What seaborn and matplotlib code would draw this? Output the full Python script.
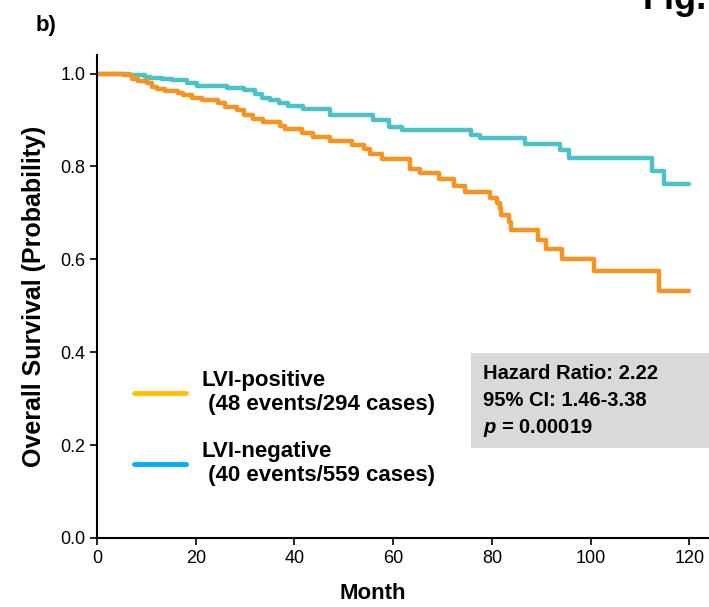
import matplotlib
matplotlib.use("Agg")
import matplotlib.pyplot as plt
from matplotlib.lines import Line2D
from matplotlib.patches import Rectangle
import seaborn as sns
import pandas as pd

# Kaplan-Meier step points (month, survival)
pos_months = [0, 5.4, 7.0, 8.4, 10.1, 11.1, 12.1, 13.8, 16.5, 17.5, 19.2, 21.2, 24.6,
              25.9, 28.3, 29.7, 31.7, 33.7, 37.0, 38.0, 41.6, 43.8, 47.3, 51.7, 54.0,
              55.4, 57.7, 63.5, 65.5, 69.2, 72.3, 74.6, 79.7, 81.1, 81.6, 81.8, 83.4,
              83.9, 89.3, 90.9, 94.3, 100.8, 113.9, 120.0]
pos_surv = [1.0, 0.996, 0.989, 0.984, 0.979, 0.971, 0.966, 0.963, 0.958, 0.953, 0.948,
            0.944, 0.936, 0.928, 0.921, 0.910, 0.903, 0.896, 0.887, 0.880, 0.871, 0.863,
            0.855, 0.846, 0.837, 0.827, 0.816, 0.794, 0.785, 0.774, 0.758, 0.746, 0.732,
            0.721, 0.711, 0.695, 0.681, 0.663, 0.642, 0.622, 0.601, 0.575, 0.532, 0.532]

neg_months = [0, 6.5, 9.7, 10.8, 13.1, 15.2, 18.2, 20.2, 26.3, 29.7, 32.0, 33.4, 35.1,
              36.8, 38.8, 41.8, 47.3, 56.0, 59.1, 61.8, 75.7, 77.7, 86.8, 93.9, 95.6,
              112.5, 114.9, 120.0]
neg_surv = [1.0, 0.997, 0.993, 0.990, 0.988, 0.986, 0.979, 0.974, 0.970, 0.964, 0.957,
            0.948, 0.943, 0.936, 0.931, 0.923, 0.911, 0.900, 0.884, 0.878, 0.868, 0.861,
            0.848, 0.835, 0.819, 0.791, 0.762, 0.762]

legend_labels = ["LVI-positive\n (48 events/294 cases)", "LVI-negative\n (40 events/559 cases)"]
stats_lines = ["Hazard Ratio: 2.22", "95% CI: 1.46-3.38", r"$\bfit{p}$ = 0.00019"]
x_ticks = [0, 20, 40, 60, 80, 100, 120]
y_ticks = [0.0, 0.2, 0.4, 0.6, 0.8, 1.0]

sns.set_style("ticks")
plt.rcParams["font.family"] = ["Liberation Sans", "DejaVu Sans"]
plt.rcParams["text.color"] = "black"
plt.rcParams["axes.labelcolor"] = "black"
plt.rcParams["mathtext.fontset"] = "custom"
plt.rcParams["mathtext.bfit"] = "Liberation Sans:bold:italic"
plt.rcParams["mathtext.it"] = "Liberation Sans:italic"
plt.rcParams["mathtext.bf"] = "Liberation Sans:bold"

fig = plt.figure(figsize=(7.09, 6.07), dpi=100)
ax = fig.add_axes([97 / 709, 1 - 538 / 607, 612 / 709, 483 / 607])

df_pos = pd.DataFrame({"month": pos_months, "surv": pos_surv})
df_neg = pd.DataFrame({"month": neg_months, "surv": neg_surv})
sns.lineplot(data=df_neg, x="month", y="surv", ax=ax, color="#4BC2C5", lw=3.2,
             drawstyle="steps-post", estimator=None, sort=False)
sns.lineplot(data=df_pos, x="month", y="surv", ax=ax, color="#F7931E", lw=3.2,
             drawstyle="steps-post", estimator=None, sort=False)

ax.set_xlim(0, 124)
ax.set_ylim(0, 1.04)
ax.set_xticks(x_ticks)
ax.set_yticks(y_ticks)
ax.set_yticklabels([f"{v:.1f}" for v in y_ticks])
ax.tick_params(labelsize=13, length=5, width=1.2, colors="black")
for s in ["top", "right"]:
    ax.spines[s].set_visible(False)
for s in ["left", "bottom"]:
    ax.spines[s].set_linewidth(1.5)
    ax.spines[s].set_color("black")

ax.set_xlabel("Month", fontsize=16, fontweight="bold")
ax.xaxis.set_label_coords((373 - 97) / 612, -45 / 483)
ax.set_ylabel("Overall Survival (Probability)", fontsize=18, fontweight="bold", labelpad=10)

# legend
handles = [Line2D([], [], color="#FFC000", lw=3.5), Line2D([], [], color="#00B0F0", lw=3.5)]
ax.legend(handles, legend_labels, loc="upper left", bbox_to_anchor=((134 - 97) / 612, (538 - 370) / 483),
          frameon=False, prop={"size": 16, "weight": "bold"}, handlelength=2.35,
          handletextpad=0.7, labelspacing=1.15, borderpad=0, borderaxespad=0)

# stats box
ax.add_patch(Rectangle(((471 - 97) / 612, (538 - 448) / 483), 1.0, 95 / 483,
                       transform=ax.transAxes, facecolor="#D9D9D9", edgecolor="none",
                       clip_on=False, zorder=1))
for i, line in enumerate(stats_lines):
    ax.text((483 - 97) / 612, (538 - 374 - 27 * i) / 483, line, transform=ax.transAxes,
            fontsize=14.5, fontweight="bold", va="center", ha="left", zorder=2)

fig.text(36 / 709, 1 - 26 / 607, "b)", fontsize=16, fontweight="bold", va="center", ha="left")
fig.text(707 / 709, 1 - 9 / 607, "Fig.", fontsize=26, fontweight="bold", va="baseline", ha="right")

fig.savefig("out.png", dpi=100)
